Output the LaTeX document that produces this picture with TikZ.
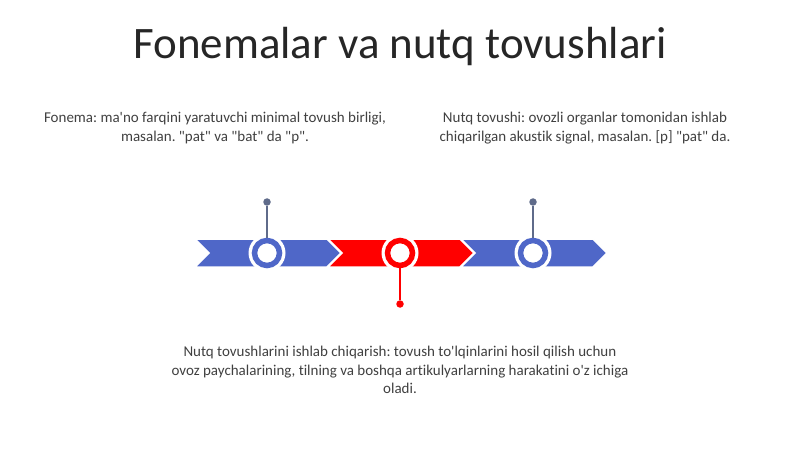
\documentclass[tikz,border=0pt]{standalone}
\usepackage{fontspec}
\setmainfont{Carlito}[Ligatures={TeXOff,CommonOff}]
\frenchspacing
\usetikzlibrary{calc}

\definecolor{ribbonblue}{RGB}{79,103,200}
\definecolor{ribbonred}{RGB}{255,0,0}
\definecolor{pingray}{RGB}{95,107,138}
\definecolor{textgray}{RGB}{64,64,64}

\begin{document}
\begin{tikzpicture}[x=1pt,y=-1pt]
\useasboundingbox (0,0) rectangle (800,449);
\node[text=black!85, font=\fontsize{45}{50}\selectfont] (title) at (400,47) {Fonemalar va nutq tovushlari};
% ribbon pieces
\foreach \L/\col in {195/ribbonblue, 328/ribbonred, 461/ribbonblue}
 \filldraw[fill=\col, draw=white, line width=1.5] (\L,239) --++(132,0) --++(14,14) --++(-14,14) --++(-132,0) --++(14,-14) -- cycle;
% rings on the ribbon
\foreach \x/\col/\n in {267/ribbonblue/a, 400/ribbonred/b, 533/ribbonblue/c} {
 \fill[white] (\x,253) circle (18.5);
 \node[circle, draw=\col, fill=white, line width=5.5, minimum size=25, inner sep=0] (ring\n) at (\x,253) {};
}
% pins
\node[circle, fill=pingray, inner sep=0, minimum size=7.5] (dota) at (267,202) {};
\node[circle, fill=pingray, inner sep=0, minimum size=7.5] (dotc) at (533,202) {};
\node[circle, fill=ribbonred, inner sep=0, minimum size=7.5] (dotb) at (400,304) {};
\draw[pingray, line width=1.5] (ringa.north) -- (dota);
\draw[pingray, line width=1.5] (ringc.north) -- (dotc);
\draw[ribbonred, line width=1.5] (ringb.south) -- (dotb);
% labels
\node[text=textgray, align=center, font=\fontsize{15}{19}\selectfont] (fonema) at (215,128)
 {Fonema: ma'no farqini yaratuvchi minimal tovush birligi,\\ masalan. "pat" va "bat" da "p".};
\node[text=textgray, align=center, font=\fontsize{15}{19}\selectfont] (tovush) at (585,128)
 {Nutq tovushi: ovozli organlar tomonidan ishlab\\ chiqarilgan akustik signal, masalan. [p] "pat" da.};
\node[text=textgray, align=center, font=\fontsize{15}{18.5}\selectfont] (ishlab) at (400,370)
 {Nutq tovushlarini ishlab chiqarish: tovush to'lqinlarini hosil qilish uchun\\ ovoz paychalarining, tilning va boshqa artikulyarlarning harakatini o'z ichiga\\ oladi.};
\end{tikzpicture}
\end{document}
